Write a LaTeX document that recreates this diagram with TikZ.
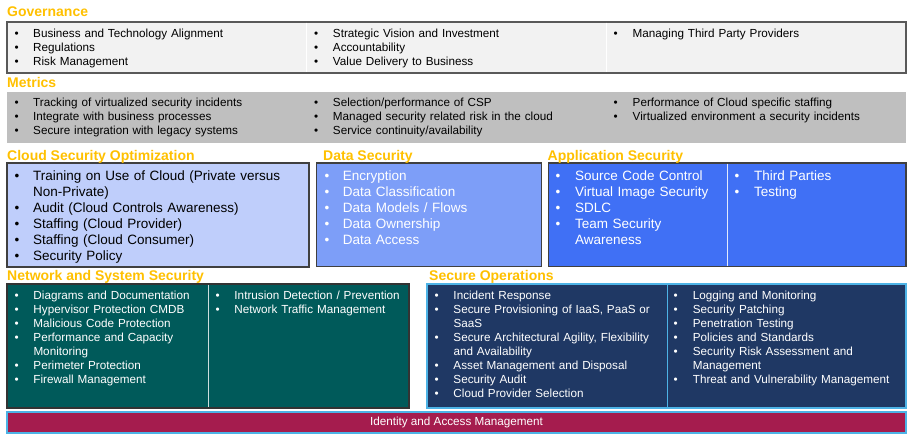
\documentclass[tikz,border=0pt]{standalone}
\usepackage{fontspec}
\setmainfont{Liberation Sans}

\definecolor{headorange}{HTML}{FFC000}
\definecolor{govfill}{HTML}{F2F2F2}
\definecolor{govline}{HTML}{595959}
\definecolor{metfill}{HTML}{BFBFBF}
\definecolor{optfill}{HTML}{BFCEFB}
\definecolor{datafill}{HTML}{7D9EF8}
\definecolor{appfill}{HTML}{4070F5}
\definecolor{netfill}{HTML}{005A5A}
\definecolor{opsfill}{HTML}{1F3864}
\definecolor{iamfill}{HTML}{A51C4E}
\definecolor{edgeblue}{HTML}{4DB3E6}
\definecolor{darkline}{HTML}{404040}

% one bulleted entry with a hanging indent
\newlength\bulletgap
\newcommand\bitem[1]{\par\hangindent=\bulletgap\hangafter=1\noindent
  \makebox[\bulletgap][l]{\textbullet}\strut#1}

\newcommand\smallfont{\fontsize{11.7}{14}\selectfont}
\newcommand\largefont{\fontsize{13.5}{16}\selectfont}

\tikzset{
  heading/.style={anchor=base west, inner sep=0pt, text=headorange,
    font=\fontsize{14}{16}\selectfont\bfseries},
  panel/.style={anchor=north west, inner sep=0pt, outer sep=0pt,
    minimum width=#1, line width=1.2pt},
  bulletlist/.style={anchor=north west, inner sep=0pt, text width=#1,
    align=left},
  divider/.style={line width=1pt},
}

\begin{document}
\begin{tikzpicture}[x=1pt,y=-1pt]
\useasboundingbox (0,0) rectangle (909,434);

% ---------------- panels ----------------
\node[panel=899pt, minimum height=51pt, fill=govfill, draw=govline] (gov) at (7,22) {};
\node[panel=899pt, minimum height=51pt, fill=metfill] (met) at (7,92) {};
\node[panel=302pt, minimum height=104pt, fill=optfill, draw=darkline] (opt) at (7,163) {};
\node[panel=225pt, minimum height=103.5pt, fill=datafill, draw=darkline] (dat) at (316.5,163) {};
\node[panel=357.5pt, minimum height=103.5pt, fill=appfill, draw=darkline] (app) at (548.5,163) {};
\node[panel=402pt, minimum height=124pt, fill=netfill, draw=black!80] (net) at (7,284) {};
\node[panel=479pt, minimum height=124pt, fill=opsfill, draw=edgeblue] (ops) at (427,284) {};
\node[panel=899pt, minimum height=21pt, fill=iamfill, draw=edgeblue,
      text=white, font=\smallfont] (iam) at (7,412) {Identity and Access Management};

% column dividers
\draw[divider, white] (306,22.6) -- (306,72.4);
\draw[divider, white] (606,22.6) -- (606,72.4);
\draw[divider, white!85!appfill] (727,163.6) -- (727,265.9);
\draw[divider, white!80!netfill] (208,284.6) -- (208,407.4);
\draw[divider, edgeblue] (667,284.6) -- (667,407.4);

% ---------------- headings ----------------
\node[heading] (hgov) at (7,16) {Governance};
\node[heading] (hmet) at (7,87) {Metrics};
\node[heading] (hopt) at (7,160) {Cloud Security Optimization};
\node[heading] (hdat) at (323,160) {Data Security};
\node[heading] (happ) at (547.5,160) {Application Security};
\node[heading] (hnet) at (7,280) {Network and System Security};
\node[heading] (hops) at (429,280) {Secure Operations};

% ---------------- Governance ----------------
\node[bulletlist=280pt, font=\smallfont] (gov1) at (14.5,23.2) {%
  \setlength\bulletgap{18.5pt}%
  \bitem{Business and Technology Alignment}
  \bitem{Regulations}
  \bitem{Risk Management}\par};
\node[bulletlist=280pt, font=\smallfont] (gov2) at (313.8,23.2) {%
  \setlength\bulletgap{19pt}%
  \bitem{Strategic Vision and Investment}
  \bitem{Accountability}
  \bitem{Value Delivery to Business}\par};
\node[bulletlist=280pt, font=\smallfont] (gov3) at (613.5,23.2) {%
  \setlength\bulletgap{19pt}%
  \bitem{Managing Third Party Providers}\par};

% ---------------- Metrics ----------------
\node[bulletlist=280pt, font=\smallfont] (met1) at (14.5,92.6) {%
  \setlength\bulletgap{18.5pt}%
  \bitem{Tracking of virtualized security incidents}
  \bitem{Integrate with business processes}
  \bitem{Secure integration with legacy systems}\par};
\node[bulletlist=280pt, font=\smallfont] (met2) at (313.8,92.6) {%
  \setlength\bulletgap{19pt}%
  \bitem{Selection/performance of CSP}
  \bitem{Managed security related risk in the cloud}
  \bitem{Service continuity/availability}\par};
\node[bulletlist=280pt, font=\smallfont] (met3) at (613.5,92.6) {%
  \setlength\bulletgap{19pt}%
  \bitem{Performance of Cloud specific staffing}
  \bitem{Virtualized environment a security incidents}\par};

% ---------------- Cloud Security Optimization ----------------
\node[bulletlist=290pt, font=\largefont] (opt1) at (14.5,164) {%
  \setlength\bulletgap{18.5pt}%
  \bitem{Training on Use of Cloud (Private versus\newline Non-Private)}
  \bitem{Audit (Cloud Controls Awareness)}
  \bitem{Staffing (Cloud Provider)}
  \bitem{Staffing (Cloud Consumer)}
  \bitem{Security Policy}\par};

% ---------------- Data Security ----------------
\node[bulletlist=220pt, font=\largefont, text=white] (dat1) at (324.5,164.5) {%
  \setlength\bulletgap{18.2pt}%
  \bitem{Encryption}
  \bitem{Data Classification}
  \bitem{Data Models / Flows}
  \bitem{Data Ownership}
  \bitem{Data Access}\par};

% ---------------- Application Security ----------------
\node[bulletlist=175pt, font=\largefont, text=white] (app1) at (555.5,164.5) {%
  \setlength\bulletgap{19.5pt}%
  \bitem{Source Code Control}
  \bitem{Virtual Image Security}
  \bitem{SDLC}
  \bitem{Team Security\newline Awareness}\par};
\node[bulletlist=170pt, font=\largefont, text=white] (app2) at (734.5,164.5) {%
  \setlength\bulletgap{19.5pt}%
  \bitem{Third Parties}
  \bitem{Testing}\par};

% ---------------- Network and System Security ----------------
\node[bulletlist=190pt, font=\smallfont, text=white] (net1) at (14.5,285.2) {%
  \setlength\bulletgap{18.8pt}%
  \bitem{Diagrams and Documentation}
  \bitem{Hypervisor Protection CMDB}
  \bitem{Malicious Code Protection}
  \bitem{Performance and Capacity\newline Monitoring}
  \bitem{Perimeter Protection}
  \bitem{Firewall Management}\par};
\node[bulletlist=195pt, font=\smallfont, text=white] (net2) at (215.5,285.2) {%
  \setlength\bulletgap{18.8pt}%
  \bitem{Intrusion Detection / Prevention}
  \bitem{Network Traffic Management}\par};

% ---------------- Secure Operations ----------------
\node[bulletlist=235pt, font=\smallfont, text=white] (ops1) at (434.5,285.2) {%
  \setlength\bulletgap{18.8pt}%
  \bitem{Incident Response}
  \bitem{Secure Provisioning of IaaS, PaaS or\newline SaaS}
  \bitem{Secure Architectural Agility, Flexibility\newline and Availability}
  \bitem{Asset Management and Disposal}
  \bitem{Security Audit}
  \bitem{Cloud Provider Selection}\par};
\node[bulletlist=232pt, font=\smallfont, text=white] (ops2) at (673.5,285.2) {%
  \setlength\bulletgap{19.2pt}%
  \bitem{Logging and Monitoring}
  \bitem{Security Patching}
  \bitem{Penetration Testing}
  \bitem{Policies and Standards}
  \bitem{Security Risk Assessment and\newline Management}
  \bitem{Threat and Vulnerability Management}\par};
\end{tikzpicture}
\end{document}
